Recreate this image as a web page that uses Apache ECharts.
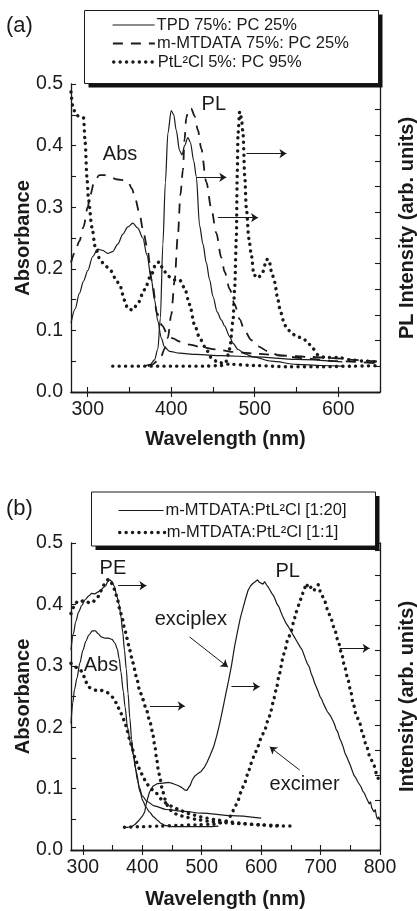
<!DOCTYPE html>
<html>
<head>
<meta charset="utf-8">
<script src="https://cdn.jsdelivr.net/npm/echarts@6/dist/echarts.min.js"></script>
<style>
  html, body { margin: 0; padding: 0; background: #fff; }
  #chart { width: 417px; height: 911px; }
</style>
</head>
<body>
<div id="chart"></div>
<script>
// ---------- Panel (a): absorption / PL spectra of the single-component films ----------
const namesA = ['TPD 75%: PC 25%', 'm-MTDATA 75%: PC 25%', 'PtL²Cl 5%: PC 95%'];

const tpdAbs = [[280,0.112],[285,0.135],[290,0.16],[295,0.18],[300,0.197],[306,0.22],[312,0.232],[318,0.23],[324,0.225],[330,0.228],[336,0.24],[342,0.256],[348,0.268],[354,0.274],[360,0.266],[366,0.25],[371,0.222],[376,0.185],[380,0.15],[384,0.115],[388,0.088],[392,0.073],[398,0.066],[410,0.063],[430,0.061],[460,0.059],[500,0.057],[550,0.053],[605,0.049]];
const tpdPL = [[368,0.042],[375,0.045],[380,0.052],[384,0.07],[387,0.12],[390,0.24],[393,0.34],[396,0.42],[400,0.457],[403,0.45],[406,0.425],[410,0.392],[413,0.385],[416,0.4],[420,0.413],[423,0.405],[427,0.375],[430,0.35],[434,0.27],[438,0.24],[442,0.21],[446,0.182],[450,0.155],[455,0.13],[460,0.117],[464,0.107],[470,0.09],[474,0.079],[480,0.069],[488,0.062],[498,0.057],[520,0.05],[550,0.045],[580,0.043],[605,0.042]];

const mtdataAbs = [[280,0.21],[285,0.228],[290,0.245],[295,0.268],[300,0.3],[303,0.32],[308,0.342],[314,0.352],[320,0.352],[328,0.348],[336,0.345],[344,0.344],[349,0.339],[353,0.33],[357,0.313],[362,0.29],[366,0.265],[371,0.236],[377,0.18],[383,0.128],[389,0.108],[395,0.095],[402,0.087],[410,0.082],[422,0.077],[434,0.0735],[454,0.069],[474,0.065],[504,0.062],[534,0.059],[564,0.057],[594,0.055],[620,0.052],[650,0.049]];
const mtdataPL = [[372,0.042],[378,0.045],[383,0.05],[388,0.058],[392,0.07],[396,0.088],[400,0.125],[404,0.18],[408,0.255],[411,0.32],[414,0.36],[416,0.41],[418,0.445],[421,0.46],[424,0.46],[428,0.448],[432,0.425],[436,0.395],[442,0.341],[448,0.298],[454,0.258],[460,0.218],[464,0.195],[470,0.167],[476,0.142],[482,0.118],[488,0.099],[496,0.084],[504,0.074],[516,0.066],[528,0.06],[556,0.055],[600,0.05],[650,0.046]];

const ptAbs = [[280,0.487],[283,0.458],[287,0.449],[291,0.447],[295,0.445],[297,0.404],[299,0.35],[301,0.312],[305,0.268],[309,0.236],[315,0.214],[321,0.205],[327,0.198],[333,0.185],[339,0.171],[344,0.149],[348,0.135],[354,0.133],[360,0.144],[368,0.166],[376,0.19],[382,0.209],[386,0.211],[390,0.2],[396,0.188],[404,0.182],[410,0.182],[416,0.169],[422,0.142],[428,0.109],[434,0.088],[440,0.074],[448,0.056],[456,0.048],[470,0.045],[500,0.043],[540,0.041],[580,0.041],[620,0.042],[650,0.043]];
const ptPL = [[330,0.042],[360,0.042],[400,0.042],[440,0.042],[460,0.043],[466,0.05],[470,0.07],[474,0.115],[476,0.17],[478,0.25],[479,0.35],[480,0.42],[482,0.455],[484,0.445],[486,0.42],[488,0.352],[490,0.298],[493,0.249],[496,0.222],[499,0.19],[504,0.185],[510,0.196],[514,0.215],[517,0.215],[520,0.196],[524,0.178],[527,0.155],[530,0.136],[534,0.117],[538,0.104],[544,0.096],[550,0.09],[558,0.087],[564,0.079],[570,0.07],[576,0.06],[584,0.056],[600,0.056],[616,0.052],[632,0.05],[650,0.048]];

// arrows [from, to] and text labels in data coordinates
const arrowsA = [[[490,0.387],[538,0.387]], [[430.5,0.3485],[466,0.3485]], [[456,0.283],[504,0.283]]];
const textA = [['Abs',338.7,0.386], ['PL',451,0.466]];

// ---------- Panel (b): m-MTDATA:PtL²Cl blends ----------
const namesB = ['m-MTDATA:PtL²Cl [1:20]', 'm-MTDATA:PtL²Cl [1:1]'];

const blend20PE = [[280,0.326],[284,0.352],[288,0.372],[293,0.388],[298,0.398],[304,0.408],[310,0.414],[315,0.418],[320,0.417],[325,0.42],[330,0.423],[334,0.427],[338,0.43],[342,0.437],[345,0.44],[349,0.437],[353,0.429],[357,0.414],[361,0.4],[364,0.38],[367,0.355],[370,0.325],[373,0.295],[376,0.255],[379,0.215],[382,0.18],[385,0.155],[388,0.135],[392,0.113],[396,0.095],[401,0.08],[406,0.07],[412,0.062],[419,0.054],[426,0.048],[432,0.043],[438,0.04],[450,0.038],[480,0.038],[510,0.038],[528,0.039]];
const blend20Abs = [[280,0.206],[283,0.24],[286,0.262],[290,0.28],[295,0.305],[300,0.325],[305,0.34],[310,0.35],[316,0.357],[321,0.357],[326,0.352],[331,0.347],[337,0.345],[343,0.345],[349,0.343],[354,0.337],[358,0.327],[361,0.312],[364,0.29],[368,0.258],[371,0.233],[375,0.2],[380,0.175],[385,0.155],[390,0.127],[395,0.102],[400,0.088],[408,0.079],[420,0.072],[440,0.066],[470,0.063],[500,0.06],[550,0.056],[600,0.052]];
const blend20PL = [[368,0.037],[376,0.037],[382,0.038],[388,0.042],[394,0.048],[400,0.055],[404,0.062],[407,0.077],[412,0.094],[418,0.104],[425,0.108],[435,0.109],[445,0.11],[452,0.108],[460,0.105],[466,0.102],[471,0.098],[475,0.097],[478,0.099],[481,0.106],[484,0.114],[488,0.12],[493,0.124],[499,0.128],[504,0.134],[509,0.143],[514,0.154],[520,0.168],[525,0.185],[530,0.205],[535,0.228],[540,0.252],[545,0.275],[550,0.3],[555,0.33],[560,0.355],[565,0.378],[570,0.396],[574,0.41],[578,0.423],[582,0.43],[586,0.434],[590,0.437],[594,0.44],[597,0.436],[600,0.438],[603,0.433],[606,0.437],[609,0.432],[612,0.428],[615,0.423],[618,0.418],[621,0.414],[624,0.407],[627,0.4],[630,0.396],[633,0.388],[636,0.381],[639,0.378],[642,0.369],[645,0.365],[648,0.36],[651,0.355],[654,0.35],[657,0.348],[660,0.34],[663,0.337],[666,0.33],[669,0.326],[672,0.318],[675,0.31],[678,0.303],[681,0.298],[684,0.288],[687,0.281],[690,0.272],[693,0.265],[696,0.258],[699,0.25],[702,0.245],[705,0.238],[708,0.236],[711,0.226],[714,0.228],[717,0.218],[720,0.212],[723,0.206],[726,0.197],[729,0.192],[732,0.182],[735,0.176],[738,0.168],[741,0.158],[744,0.152],[747,0.145],[750,0.138],[753,0.13],[756,0.122],[759,0.118],[762,0.112],[765,0.109],[768,0.103],[771,0.096],[774,0.092],[777,0.085],[780,0.082],[782,0.075],[784,0.079],[786,0.069],[788,0.072],[790,0.062],[792,0.066],[794,0.055],[796,0.05],[798,0.054],[800,0.048]];

const blend1PE = [[280,0.385],[284,0.395],[288,0.402],[292,0.406],[297,0.405],[302,0.406],[307,0.404],[312,0.402],[317,0.404],[321,0.408],[325,0.412],[330,0.422],[334,0.43],[338,0.436],[342,0.44],[346,0.44],[350,0.432],[354,0.423],[358,0.408],[362,0.393],[366,0.378],[370,0.362],[374,0.345],[379,0.325],[384,0.305],[390,0.283],[395,0.262],[401,0.245],[407,0.228],[412,0.212],[417,0.193],[421,0.17],[424,0.15],[427,0.13],[430,0.115],[434,0.097],[438,0.083],[443,0.072],[450,0.063],[460,0.057],[475,0.053],[490,0.05],[510,0.047],[530,0.045],[560,0.043],[600,0.041],[630,0.04]];
const blend1Abs = [[280,0.304],[285,0.3],[290,0.297],[295,0.294],[300,0.288],[304,0.276],[309,0.266],[315,0.262],[323,0.26],[330,0.26],[336,0.259],[342,0.256],[347,0.252],[351,0.248],[356,0.24],[362,0.228],[367,0.216],[371,0.206],[375,0.193],[379,0.179],[383,0.165],[387,0.152],[392,0.14],[396,0.13],[402,0.118],[407,0.108],[415,0.099],[424,0.092],[432,0.083],[441,0.076],[452,0.07],[463,0.065],[475,0.06],[486,0.057],[497,0.054],[508,0.052],[525,0.049],[542,0.046],[564,0.044],[581,0.042],[598,0.041],[620,0.039],[650,0.039]];
const blend1PL = [[370,0.037],[400,0.038],[430,0.039],[460,0.04],[490,0.041],[520,0.042],[538,0.045],[545,0.05],[550,0.058],[555,0.068],[561,0.081],[566,0.094],[572,0.109],[578,0.125],[583,0.141],[589,0.155],[594,0.168],[600,0.182],[606,0.196],[612,0.212],[617,0.228],[621,0.245],[625,0.26],[631,0.288],[636,0.31],[640,0.326],[645,0.343],[651,0.358],[655,0.373],[659,0.388],[664,0.4],[668,0.412],[672,0.424],[676,0.434],[680,0.425],[684,0.428],[688,0.422],[692,0.427],[696,0.432],[699,0.422],[702,0.415],[707,0.405],[712,0.391],[718,0.375],[724,0.358],[729,0.342],[735,0.322],[740,0.301],[745,0.282],[750,0.262],[755,0.238],[760,0.22],[766,0.206],[771,0.188],[777,0.17],[783,0.152],[790,0.137],[796,0.118],[800,0.108]];

const arrowsB = [[[359.5,0.4305],[407,0.4305]], [[413,0.2345],[471.5,0.2345]], [[479.5,0.347],[544,0.298]], [[550,0.266],[597.5,0.266]], [[665,0.13],[614.5,0.168]], [[732,0.3285],[782.5,0.3285]]];
const textB = [['PE',350.6,0.459], ['PL',644.7,0.454], ['exciplex',481.7,0.375], ['Abs',330.4,0.30], ['excimer',673,0.106]];

// axis ticks / labels
const ticksA = [300,350,400,450,500,550,600,650];
const labelsA = [300,400,500,600];
const ticksB = [300,350,400,450,500,550,600,650,700,750,800];
const labelsB = [300,400,500,600,700,800];

// ---------- styling ----------
const INK = '#1a1a1a';
const FONT = '"Liberation Sans", Arial, Helvetica, sans-serif';
const SOLID = { color: INK, width: 1.2, type: 'solid' };
const DASHED = { color: INK, width: 1.8, type: [10, 8] };
const DOTTED = { color: INK, width: 3.4, type: [0.1, 6.3], cap: 'round' };

function curve(name, data, style, gi, smooth) {
  return {
    type: 'line', name: name, data: data,
    xAxisIndex: gi * 2, yAxisIndex: gi * 2,
    symbol: 'none', showSymbol: false,
    smooth: smooth === undefined ? 0.3 : smooth,
    smoothMonotone: 'x',
    lineStyle: style, itemStyle: { color: INK },
    silent: true, animation: false
  };
}

function annotate(series, arrows, texts) {
  series.markLine = {
    silent: true, animation: false,
    symbol: ['none', 'arrow'], symbolSize: 7,
    label: { show: false },
    lineStyle: { type: 'solid', width: 1, color: INK },
    data: arrows.map(a => [{ coord: a[0] }, { coord: a[1] }])
  };
  series.markPoint = {
    silent: true, animation: false,
    symbol: 'rect', symbolSize: 1,
    itemStyle: { color: 'rgba(0,0,0,0)' },
    label: { show: true, position: 'inside', formatter: '{b}', fontSize: 20, color: INK, fontFamily: FONT },
    data: texts.map(t => ({ name: t[0], coord: [t[1], t[2]] }))
  };
  return series;
}

const axisLine = { show: true, lineStyle: { color: INK, width: 1.3 } };
const tickStyle = { color: INK, width: 1.1 };
const labelStyle = { color: INK, fontSize: 19.5, fontFamily: FONT };
const nameStyle = { color: INK, fontSize: 20, fontWeight: 'bold', fontFamily: FONT };

function xAxes(gi, max, ticks, labels, gap) {
  return [
    { type: 'value', gridIndex: gi, min: 280, max: max, position: 'bottom',
      name: 'Wavelength (nm)', nameLocation: 'middle', nameGap: gap, nameMoveOverlap: false,
      nameTextStyle: nameStyle,
      axisLine: axisLine, splitLine: { show: false },
      axisTick: { show: true, inside: true, length: 5, lineStyle: tickStyle, customValues: ticks },
      axisLabel: { margin: 8, customValues: labels, ...labelStyle } },
    { type: 'value', gridIndex: gi, min: 280, max: max, position: 'top',
      axisLine: axisLine, splitLine: { show: false },
      axisTick: { show: true, inside: true, length: 5, lineStyle: tickStyle, customValues: labels },
      axisLabel: { show: false } }
  ];
}

function yAxes(gi, rightName, rightMax, rightPad) {
  return [
    { type: 'value', gridIndex: gi, min: 0, max: 0.5, interval: 0.1, position: 'left',
      name: 'Absorbance', nameLocation: 'middle', nameGap: 38, nameMoveOverlap: false,
      nameTextStyle: nameStyle,
      axisLine: axisLine, splitLine: { show: false },
      axisTick: { show: true, inside: true, length: 5, lineStyle: tickStyle },
      minorTick: { show: true, splitNumber: 2, length: 5, lineStyle: tickStyle },
      axisLabel: { margin: 8, formatter: v => v.toFixed(1), ...labelStyle } },
    { type: 'value', gridIndex: gi, min: 0, max: rightMax, interval: 1, position: 'right',
      name: rightName, nameLocation: 'middle', nameGap: 17, nameMoveOverlap: false,
      nameTextStyle: { ...nameStyle, padding: rightPad },
      axisLine: axisLine, splitLine: { show: false },
      axisTick: { show: true, inside: true, length: 5, lineStyle: tickStyle },
      axisLabel: { show: false } }
  ];
}

// one legend component per row so each row sits at an exact height
function legendRow(name, left, top, itemWidth, lineWidth) {
  return {
    data: [name], orient: 'vertical', left: left, top: top, padding: 0,
    itemWidth: itemWidth, itemHeight: 14, selectedMode: false,
    itemStyle: { color: 'rgba(0,0,0,0)', borderColor: 'rgba(0,0,0,0)', borderWidth: 0 },
    lineStyle: { width: lineWidth },
    textStyle: { color: INK, fontSize: 16.5, lineHeight: 18, fontFamily: FONT, padding: [0, 0, 0, -3] },
    z: 12
  };
}

// framed legend box with a solid drop shadow
function legendFrame(x, y, w, h) {
  return [
    { type: 'rect', z: 10, silent: true, shape: { x: x + 4, y: y + 4, width: w, height: h },
      style: { fill: '#111', stroke: null } },
    { type: 'rect', z: 11, silent: true, shape: { x: x, y: y, width: w, height: h },
      style: { fill: '#fff', stroke: INK, lineWidth: 1 } }
  ];
}

const seriesA = [
  annotate(curve(namesA[0], tpdAbs, SOLID, 0), arrowsA, textA),
  curve(namesA[0], tpdPL, SOLID, 0),
  curve(namesA[1], mtdataAbs, DASHED, 0),
  curve(namesA[1], mtdataPL, DASHED, 0),
  curve(namesA[2], ptAbs, DOTTED, 0),
  curve(namesA[2], ptPL, DOTTED, 0)
];
const seriesB = [
  annotate(curve(namesB[0], blend20PE, SOLID, 1), arrowsB, textB),
  curve(namesB[0], blend20Abs, SOLID, 1),
  curve(namesB[0], blend20PL, SOLID, 1, false),
  curve(namesB[1], blend1PE, DOTTED, 1),
  curve(namesB[1], blend1Abs, DOTTED, 1),
  curve(namesB[1], blend1PL, DOTTED, 1)
];

const option = {
  backgroundColor: '#fff',
  animation: false,
  title: [
    { text: '(a)', left: 6, top: 15, padding: 0, textStyle: { fontSize: 22, fontWeight: 'normal', color: INK, fontFamily: FONT } },
    { text: '(b)', left: 6, top: 498, padding: 0, textStyle: { fontSize: 22, fontWeight: 'normal', color: INK, fontFamily: FONT } }
  ],
  graphic: [
    ...legendFrame(84.5, 10.5, 294, 73),
    ...legendFrame(91.5, 492, 284, 54)
  ],
  legend: [
    legendRow(namesA[0], 112, 16, 42, 1.2),
    legendRow(namesA[1], 112, 34.5, 42, 1.8),
    legendRow(namesA[2], 112, 53, 42, 3.4),
    legendRow(namesB[0], 118, 501.5, 45, 1.2),
    legendRow(namesB[1], 118, 523.5, 45, 3.4)
  ],
  grid: [
    { left: 71, top: 84, width: 309, height: 308, outerBoundsMode: 'none' },
    { left: 71, top: 543, width: 309, height: 307, outerBoundsMode: 'none' }
  ],
  xAxis: [...xAxes(0, 650, ticksA, labelsA, 37), ...xAxes(1, 800, ticksB, labelsB, 39)],
  yAxis: [...yAxes(0, 'PL Intensity (arb. units)', 12, [0, 0, 0, 20]), ...yAxes(1, 'Intensity (arb. units)', 12.3, 0)],
  series: [...seriesA, ...seriesB]
};

const chart = echarts.init(document.getElementById('chart'), null, { renderer: 'canvas' });
chart.setOption(option);
</script>
</body>
</html>
